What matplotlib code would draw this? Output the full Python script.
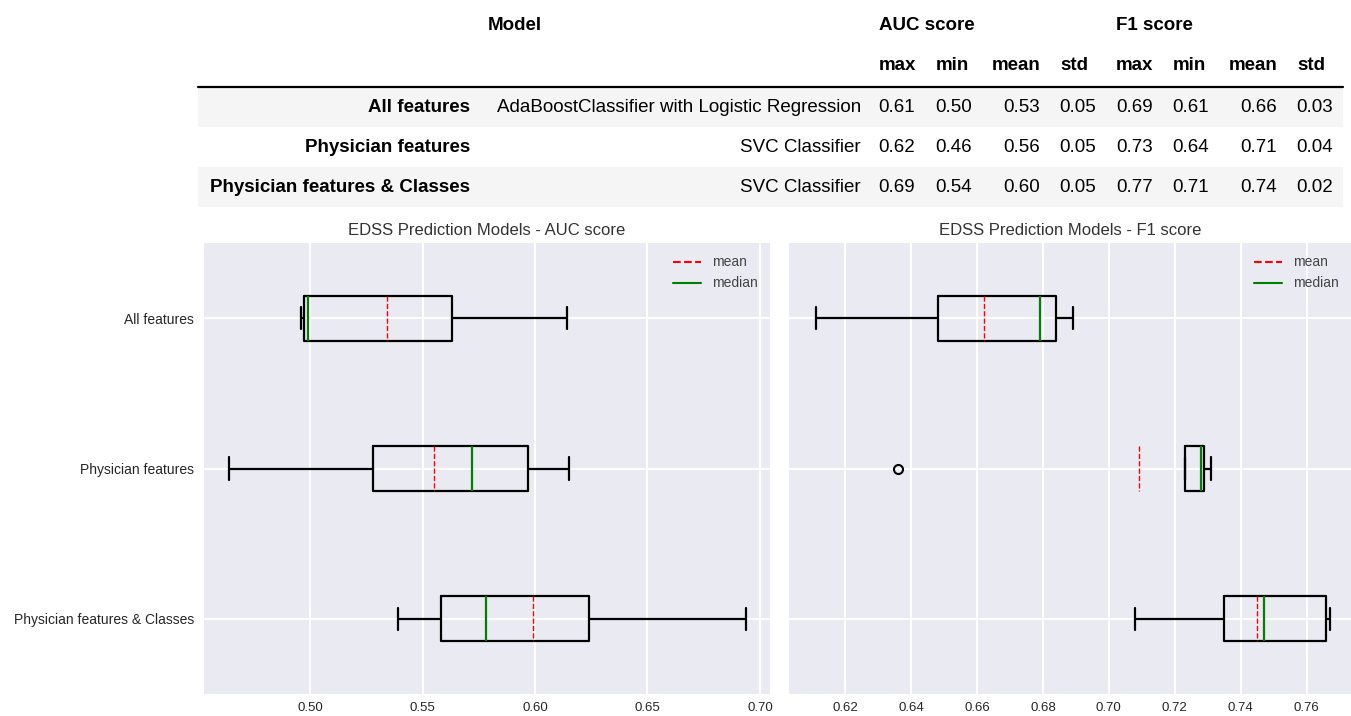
import matplotlib
matplotlib.use('Agg')
import matplotlib.pyplot as plt
from matplotlib.lines import Line2D
from matplotlib.patches import Rectangle

# Данные
groups = ['All features', 'Physician features', 'Physician features & Classes']
models = ['AdaBoostClassifier with Logistic Regression', 'SVC Classifier', 'SVC Classifier']

auc_max = ['0.61', '0.62', '0.69']
auc_min = ['0.50', '0.46', '0.54']
auc_mean_tab = ['0.53', '0.56', '0.60']
auc_std = ['0.05', '0.05', '0.05']
f1_max = ['0.69', '0.73', '0.77']
f1_min = ['0.61', '0.64', '0.71']
f1_mean_tab = ['0.66', '0.71', '0.74']
f1_std = ['0.03', '0.04', '0.02']

# статистика для boxplot
auc_whislo = [0.496, 0.464, 0.539]
auc_q1 = [0.497, 0.528, 0.558]
auc_med = [0.499, 0.572, 0.578]
auc_mean = [0.534, 0.555, 0.599]
auc_q3 = [0.563, 0.597, 0.624]
auc_whishi = [0.614, 0.615, 0.694]
auc_fliers = [[], [], []]

f1_whislo = [0.611, 0.723, 0.708]
f1_q1 = [0.648, 0.723, 0.735]
f1_med = [0.679, 0.728, 0.747]
f1_mean = [0.662, 0.709, 0.745]
f1_q3 = [0.684, 0.729, 0.766]
f1_whishi = [0.689, 0.731, 0.767]
f1_fliers = [[], [0.636], []]

plt.style.use('seaborn-v0_8')
plt.rcParams['font.family'] = ['Liberation Sans', 'DejaVu Sans']

W, H = 1351, 716
fig = plt.figure(figsize=(W / 100, H / 100), dpi=100)
fig.patch.set_facecolor('white')

# ---- таблица сверху (координаты в пикселях) ----
tax = fig.add_axes([0, 0, 1, 1])
tax.set_xlim(0, W)
tax.set_ylim(H, 0)
tax.axis('off')

fs = 13.5
tc = 'black'
tab_left, tab_right = 198, 1343
row_y = [107, 147, 187]
row_h = 39.5
for i, y in enumerate(row_y):
    if i % 2 == 0:
        tax.add_patch(Rectangle((tab_left, y - row_h / 2), tab_right - tab_left, row_h,
                                facecolor='#f5f5f5', edgecolor='none'))
tax.plot([tab_left, tab_right], [86.5, 86.5], color='black', lw=1.6)

tax.text(488, 26, 'Model', fontsize=fs, fontweight='bold', ha='left', va='center', color=tc)
tax.text(879, 26, 'AUC score', fontsize=fs, fontweight='bold', ha='left', va='center', color=tc)
tax.text(1116, 26, 'F1 score', fontsize=fs, fontweight='bold', ha='left', va='center', color=tc)

sub_names = ['max', 'min', 'mean', 'std'] * 2
sub_x = [879, 936, 992, 1060, 1116, 1173, 1229, 1297]
for name, x in zip(sub_names, sub_x):
    tax.text(x, 66, name, fontsize=fs, fontweight='bold', ha='left', va='center', color=tc)

cols = [auc_max, auc_min, auc_mean_tab, auc_std, f1_max, f1_min, f1_mean_tab, f1_std]
col_right = [915, 972, 1040, 1096, 1153, 1209, 1277, 1333]
for i, y in enumerate(row_y):
    tax.text(470, y, groups[i], fontsize=fs, fontweight='bold', ha='right', va='center', color=tc)
    tax.text(861, y, models[i], fontsize=fs, ha='right', va='center', color=tc)
    for col, x in zip(cols, col_right):
        tax.text(x, y, col[i], fontsize=fs, ha='right', va='center', color=tc)


# ---- boxplots ----
def make_stats(whislo, q1, med, mean, q3, whishi, fliers):
    out = []
    for k in range(len(med)):
        out.append(dict(whislo=whislo[k], q1=q1[k], med=med[k], mean=mean[k],
                        q3=q3[k], whishi=whishi[k], fliers=fliers[k]))
    return out


ax_bottom = 1 - 694 / H
ax_h = (694 - 243) / H
ax1 = fig.add_axes([204 / W, ax_bottom, 566 / W, ax_h])
ax2 = fig.add_axes([789 / W, ax_bottom, 562 / W, ax_h])

boxprops = dict(color='black', linewidth=1.6)
lineprops = dict(color='black', linewidth=1.6)
medprops = dict(color='green', linewidth=1.6)
meanprops = dict(color='red', linestyle='--', linewidth=1.0)
flierprops = dict(marker='o', markerfacecolor='none', markeredgecolor='black',
                  markeredgewidth=1.5, markersize=6.5)

panels = [
    (ax1, make_stats(auc_whislo, auc_q1, auc_med, auc_mean, auc_q3, auc_whishi, auc_fliers),
     'EDSS Prediction Models - AUC score', (0.4527, 0.7045), [0.50, 0.55, 0.60, 0.65, 0.70]),
    (ax2, make_stats(f1_whislo, f1_q1, f1_med, f1_mean, f1_q3, f1_whishi, f1_fliers),
     'EDSS Prediction Models - F1 score', (0.6029, 0.7735),
     [0.62, 0.64, 0.66, 0.68, 0.70, 0.72, 0.74, 0.76]),
]

for ax, stats, title, xlim, xt in panels:
    ax.bxp(stats, positions=[1, 2, 3], orientation='horizontal',
           showmeans=True, meanline=True,
           boxprops=boxprops, whiskerprops=lineprops, capprops=lineprops,
           medianprops=medprops, meanprops=meanprops, flierprops=flierprops)
    ax.set_ylim(3.5, 0.5)
    ax.set_xlim(*xlim)
    ax.set_xticks(xt)
    ax.set_xticklabels(['%.2f' % v for v in xt], fontsize=9.5)
    ax.tick_params(axis='x', pad=6)
    ax.set_title(title, fontsize=12, color='#333333')
    ax.grid(True, color='white', linewidth=1.4)
    ax.set_facecolor('#EAEAF2')
    handles = [Line2D([], [], color='red', linestyle='--', linewidth=1.5),
               Line2D([], [], color='green', linewidth=1.5)]
    leg = ax.legend(handles, ['mean', 'median'], loc='upper right', frameon=False, fontsize=10)
    for t in leg.get_texts():
        t.set_color('#444444')

ax1.set_yticks([1, 2, 3])
ax1.set_yticklabels(groups, fontsize=10)
ax2.set_yticks([1, 2, 3])
ax2.set_yticklabels([])

fig.savefig('out.png', dpi=100)
